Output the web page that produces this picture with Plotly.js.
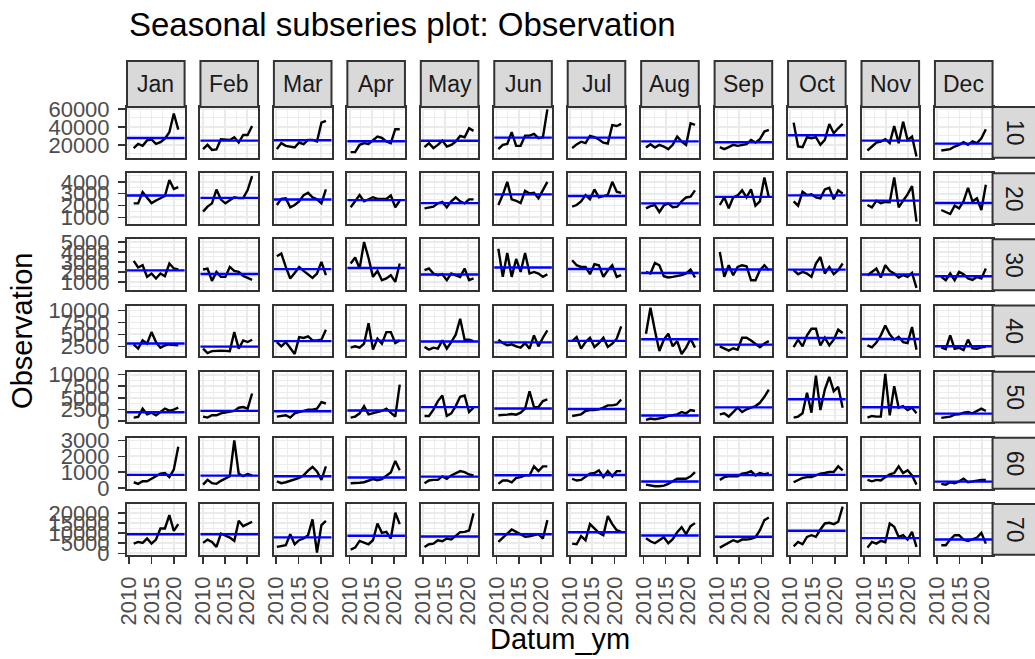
<!DOCTYPE html>
<html>
<head>
<meta charset="utf-8">
<script src="https://cdn.plot.ly/plotly-3.0.1.min.js"></script>
<style>
html,body{margin:0;padding:0;background:#fff;}
#chart{width:1035px;height:659px;}
</style>
</head>
<body>
<div id="chart"></div>
<script>
// ---------------- data ----------------
const months = ['Jan','Feb','Mar','Apr','May','Jun','Jul','Aug','Sep','Oct','Nov','Dec'];
const groups = ['10','20','30','40','50','60','70'];
const yearsJan = [2011,2012,2013,2014,2015,2016,2017,2018,2019,2020,2021];
const yearsMid = [2010,2011,2012,2013,2014,2015,2016,2017,2018,2019,2020,2021];
const yearsDec = [2010,2011,2012,2013,2014,2015,2016,2017,2018,2019,2020];

const obs10 = [
  [16300,21000,19000,25000,26000,21000,23000,27000,34000,55000,37000],
  [15200,20000,14400,14900,26300,26300,25500,28500,22600,31100,31000,41100],
  [15200,21900,18900,18100,17000,22600,20700,25500,25500,23700,44800,46700],
  [11900,11900,20000,21900,21000,24800,29200,27700,23700,21900,37400,37400],
  [17400,21900,16300,20000,24800,18100,20000,23700,30000,28500,38500,35600],
  [15200,20000,21100,34100,18900,18900,30300,30300,32200,27400,28500,59600],
  [16300,20500,23500,22000,30000,28500,26000,22500,21500,42000,41000,43300],
  [17000,20700,17000,20000,18100,15200,20000,29200,23700,20000,44100,42200],
  [17400,15200,17400,20000,18900,20000,20700,25500,22600,26300,34800,36700],
  [44800,18100,17400,28500,27400,28500,20000,25500,43300,33000,38500,43300],
  [13700,18100,22600,23700,26300,21900,41100,21900,45900,25500,29200,7000],
  [13700,14400,15200,18100,20000,23000,20000,24000,21900,27400,37400]
];
const obs20 = [
  [2180,2180,3130,2650,2200,2420,2600,2800,4150,3400,3550],
  [1480,1900,2180,3350,2500,2180,2450,2700,2620,2620,3300,4480],
  [2040,2560,2600,1840,2040,2350,2880,3070,2690,2520,2180,3360],
  [1850,2400,2880,2350,2500,2700,2550,2550,2550,2850,1850,2400],
  [1760,1840,1900,2180,2300,1840,2350,2690,2350,2180,2520,2520],
  [2040,2900,4000,2520,2400,2200,3240,3010,3070,2600,3300,4000],
  [1900,2040,2350,2880,2520,3360,2690,2770,2900,4000,3160,3070],
  [1760,1950,2040,1450,2000,2180,1850,1900,2350,2680,2740,3280],
  [2040,2690,1760,2690,2850,3280,2690,3360,1980,2350,4370,2690],
  [2350,1980,3160,2880,2940,2690,2600,3360,3500,2520,3280,3010],
  [2040,1840,2400,2200,2300,2270,4370,1840,2400,2940,3640,640],
  [1620,1470,1280,1980,1760,2350,3500,2350,2600,1620,3760]
];
const obs30 = [
  [3100,2440,2670,1500,1840,1340,1840,1570,2840,2340,2240],
  [2240,2340,1100,2000,1500,1500,2500,2100,2000,1600,1400,1200],
  [3570,3840,2500,1340,1900,2500,2100,1700,1400,1840,3000,1670],
  [2840,3440,2340,5000,3400,1500,2100,1170,1340,1670,1000,2840],
  [2170,2340,1840,1670,1770,1170,1840,1700,1500,2340,1170,1340],
  [4330,1500,3900,1500,3300,2000,3900,1840,2000,1840,1500,1770],
  [3170,2670,2500,2500,1770,2770,2670,1500,2170,2670,1500,1670],
  [2000,1840,2900,2670,1570,1440,1500,1570,1670,1840,2240,1440],
  [4000,1500,2670,1670,2500,2670,2570,1170,1170,2170,2670,2170],
  [2170,1770,2000,1840,1500,2840,3500,1840,2500,1770,2170,2840],
  [1670,2000,2340,1440,2670,2100,1840,1440,1670,1500,1900,400],
  [1500,1170,1840,1170,2000,1770,1340,1200,1500,1340,2340]
];
const obs40 = [
  [2920,2020,3750,3060,5480,3400,2230,2710,2900,2800,2710],
  [2020,1110,1500,1600,1600,1550,1500,5480,2020,3750,3400,3890],
  [3400,2500,3400,2230,900,4430,4260,4600,3750,3750,3900,5980],
  [2230,2500,2230,3060,7350,1810,4100,3060,5480,5480,3190,3750],
  [2360,1810,2230,2020,3750,2020,3400,4930,8270,3890,3890,3610],
  [3890,3190,2710,2920,2500,2230,3190,2020,4790,2500,4300,5830],
  [3610,4440,2020,3400,4300,2360,3190,4300,2360,3060,4100,6670],
  [5140,10560,5830,1520,3890,5140,2500,3610,900,2230,4100,2230],
  [2500,2100,1600,2100,1800,4300,4300,3700,2900,2300,3100,3600],
  [2360,3890,2500,4790,6180,6180,2710,4300,2710,3890,5980,5280],
  [2710,2300,3300,4800,6870,5000,3890,4500,3400,3200,6530,1810],
  [2300,1900,4800,2000,2200,1700,3900,2100,2000,2300,2400]
];
const obs50 = [
  [730,860,2660,1440,1800,1230,1930,2660,2240,2450,2870],
  [940,730,1230,1230,1640,1800,1930,2160,2870,3010,2660,5930],
  [940,1080,1230,730,1640,1930,2160,2450,2450,2660,4070,3780],
  [730,950,1660,3220,1440,1660,1930,2160,2660,1860,950,7860],
  [1080,1080,2450,4290,5500,1080,1660,3220,5220,5500,1930,2870],
  [1230,1230,1370,1510,1370,1800,2660,6430,3000,3000,4290,4640],
  [1080,1230,1440,2160,2370,2370,2520,2870,3360,3360,3570,4640],
  [220,520,370,520,730,1080,1230,1440,1930,1650,2360,2150],
  [1440,1660,950,1930,2870,1930,2520,2870,3220,3930,5220,6790],
  [730,950,1660,6080,1800,9790,2360,6790,9500,6430,7360,2870],
  [730,1080,950,950,10150,1230,7500,2870,3220,2360,2870,1660],
  [660,730,950,1370,1440,1800,1930,1660,2160,2660,2160]
];
const obs60 = [
  [370,270,430,430,590,740,910,950,690,1160,2600],
  [220,520,310,270,460,590,750,3000,910,750,880,800],
  [430,310,370,460,590,640,800,1100,1330,1050,520,1370],
  [310,310,340,370,460,570,500,570,780,990,1710,1120],
  [310,480,520,520,740,590,800,950,1070,1010,860,800],
  [270,480,480,370,640,690,800,800,1370,1070,1370,1370],
  [590,480,520,690,910,950,1120,690,1070,740,1070,1070],
  [220,160,120,120,160,270,430,590,590,590,740,1010],
  [520,690,740,740,740,910,950,1070,800,950,860,950],
  [370,480,640,690,690,800,910,950,1010,1010,1370,1120],
  [520,430,520,480,690,860,950,1370,950,1120,800,220],
  [270,220,370,310,430,590,370,430,480,520,520]
];
const obs70 = [
  [4830,5670,5170,7330,4830,6830,12330,12330,19000,11170,14500],
  [5170,6830,5670,3170,9830,9000,7830,6170,16170,13500,14500,15670],
  [3170,3500,4000,9500,4500,6500,7330,9000,16830,400,14000,16170],
  [1830,2830,6170,5170,4500,6500,14830,10170,10670,7330,20170,14500],
  [3170,4500,4830,6500,6000,7330,6830,8830,10500,10670,11330,19830],
  [5670,7830,9500,11830,10670,9500,8170,8500,9000,9500,7330,16500],
  [4830,4500,8500,6500,14500,12330,10170,9000,18500,14500,11500,10670],
  [7500,6000,5000,6500,8000,5000,7000,10500,13000,9500,13500,15000],
  [2830,4000,5170,6500,5670,6830,6830,7170,8000,11500,16500,17830],
  [3500,5670,4500,8170,9000,8170,11830,14830,15170,14500,15670,23170],
  [2830,5670,4830,6170,5500,14830,13170,8170,9000,6830,10670,3170],
  [4000,4000,6830,9000,9000,6830,6170,6830,7830,10170,4830]
];

const xTickYears = [2010, 2015, 2020];
const xTickText = ['2010', '2015', '2020'];
const yTicks10 = [20000, 40000, 60000];
const yTicks20 = [1000, 2000, 3000, 4000];
const yTicks30 = [1000, 2000, 3000, 4000, 5000];
const yTicks40 = [2500, 5000, 7500, 10000];
const yTicks50 = [0, 2500, 5000, 7500, 10000];
const yTicks60 = [0, 1000, 2000, 3000];
const yTicks70 = [0, 5000, 10000, 15000, 20000];

// ---------------- layout config ----------------
const obsRows = [obs10, obs20, obs30, obs40, obs50, obs60, obs70];
const yTickRows = [yTicks10, yTicks20, yTicks30, yTicks40, yTicks50, yTicks60, yTicks70];
const yRanges = [[5556,62222],[436,4733],[170,5270],[417,11040],[-323,10645],[-32,3160],[-750,24500]];
const xRange = ['2009-07-01', '2022-06-03'];

const W = 1035, H = 659;
const colLeft0 = 127, colStep = 73.45, colW = 57.6;
const rowTop0 = 107, rowStep = 66.17, rowH = 50.8;
const stripTop = 61;
const stripRightW = 44;
const FONT = 'Liberation Sans, Arial, Helvetica, sans-serif';

function ym(y, m) { return y + '-' + String(m + 1).padStart(2, '0') + '-01'; }
function mean(a) { return a.reduce((s, v) => s + v, 0) / a.length; }
function minorOf(t) {
  const step = t[1] - t[0];
  const out = [t[0] - step / 2];
  t.forEach(v => out.push(v + step / 2));
  return out;
}

const xTickVals = xTickYears.map(y => y + '-01-01');
const xMinorVals = [2007, 2012, 2017, 2022].map(y => y + '-07-02');

const traces = [];
const shapes = [];
const annotations = [];
const layout = {
  width: W, height: H,
  margin: {l: 0, r: 0, t: 0, b: 0},
  paper_bgcolor: '#ffffff',
  plot_bgcolor: '#ffffff',
  showlegend: false,
  font: {family: FONT, color: '#000000'},
  title: {
    text: 'Seasonal subseries plot: Observation',
    font: {family: FONT, size: 33, color: '#000000'},
    x: 129 / W, xanchor: 'left', xref: 'paper',
    y: 1 - 13 / H, yanchor: 'top', yref: 'container'
  }
};

for (let r = 0; r < groups.length; r++) {
  const top = rowTop0 + r * rowStep;
  const bot = top + rowH;
  for (let c = 0; c < months.length; c++) {
    const idx = r * months.length + c + 1;
    const s = idx === 1 ? '' : String(idx);
    const left = colLeft0 + c * colStep;
    const right = left + colW;
    const years = c === 0 ? yearsJan : (c === 11 ? yearsDec : yearsMid);
    const vals = obsRows[r][c];
    traces.push({
      type: 'scatter', mode: 'lines',
      x: years.map(y => ym(y, c)), y: vals,
      xaxis: 'x' + s, yaxis: 'y' + s,
      line: {color: '#000000', width: 2.4},
      hoverinfo: 'skip'
    });
    const m = mean(vals);
    shapes.push({
      type: 'line', xref: 'x' + s + ' domain', yref: 'y' + s,
      x0: 0, x1: 1, y0: m, y1: m,
      line: {color: '#0000FF', width: 2.4}, layer: 'above'
    });
    const isBottom = r === groups.length - 1;
    const isLeft = c === 0;
    layout['xaxis' + s] = {
      domain: [left / W, right / W], anchor: 'y' + s,
      type: 'date', range: xRange, fixedrange: true,
      tickmode: 'array', tickvals: xTickVals, ticktext: xTickText,
      showticklabels: isBottom, ticks: isBottom ? 'outside' : '',
      ticklen: 7, tickwidth: 1.6, tickcolor: '#333333', tickangle: -90,
      ticklabelstandoff: 4,
      tickfont: {family: FONT, size: 22, color: '#4D4D4D'},
      showgrid: true, gridcolor: '#EBEBEB', gridwidth: 1.8,
      minor: {tickmode: 'array', tickvals: xMinorVals, showgrid: true, gridcolor: '#EBEBEB', gridwidth: 0.9, ticks: ''},
      showline: true, mirror: true, linecolor: '#333333', linewidth: 2,
      zeroline: false
    };
    const yt = yTickRows[r];
    layout['yaxis' + s] = {
      domain: [1 - bot / H, 1 - top / H], anchor: 'x' + s,
      range: yRanges[r], fixedrange: true,
      tickmode: 'array', tickvals: yt, ticktext: yt.map(String),
      showticklabels: isLeft, ticks: isLeft ? 'outside' : '',
      ticklen: 7, tickwidth: 1.6, tickcolor: '#333333',
      ticklabelstandoff: 4,
      tickfont: {family: FONT, size: 22, color: '#4D4D4D'},
      showgrid: true, gridcolor: '#EBEBEB', gridwidth: 1.8,
      minor: {tickmode: 'array', tickvals: minorOf(yt), showgrid: true, gridcolor: '#EBEBEB', gridwidth: 0.9, ticks: ''},
      showline: true, mirror: true, linecolor: '#333333', linewidth: 2,
      zeroline: false
    };
  }
  // right strip
  const sx0 = colLeft0 + 11 * colStep + colW;
  shapes.push({
    type: 'rect', xref: 'paper', yref: 'paper',
    x0: sx0 / W, x1: (sx0 + stripRightW) / W, y0: 1 - bot / H, y1: 1 - top / H,
    fillcolor: '#D9D9D9', line: {color: '#333333', width: 2}, layer: 'above'
  });
  annotations.push({
    text: groups[r], xref: 'paper', yref: 'paper',
    x: (sx0 + 22) / W, y: 1 - (top + rowH / 2) / H,
    xanchor: 'center', yanchor: 'middle', showarrow: false, textangle: 90,
    font: {family: FONT, size: 23, color: '#1A1A1A'}
  });
}
// top strips
for (let c = 0; c < months.length; c++) {
  const left = colLeft0 + c * colStep;
  shapes.push({
    type: 'rect', xref: 'paper', yref: 'paper',
    x0: left / W, x1: (left + colW) / W, y0: 1 - rowTop0 / H, y1: 1 - stripTop / H,
    fillcolor: '#D9D9D9', line: {color: '#333333', width: 2}, layer: 'above'
  });
  annotations.push({
    text: months[c], xref: 'paper', yref: 'paper',
    x: (left + colW / 2) / W, y: 1 - ((stripTop + rowTop0) / 2) / H,
    xanchor: 'center', yanchor: 'middle', showarrow: false,
    font: {family: FONT, size: 23, color: '#1A1A1A'}
  });
}
// axis titles
const panelsMidY = rowTop0 + (6 * rowStep + rowH) / 2;
const panelsMidX = colLeft0 + (11 * colStep + colW) / 2;
annotations.push({
  text: 'Observation', xref: 'paper', yref: 'paper',
  x: 22 / W, y: 1 - panelsMidY / H, xanchor: 'center', yanchor: 'middle',
  textangle: -90, showarrow: false,
  font: {family: FONT, size: 29, color: '#000000'}
});
annotations.push({
  text: 'Datum_ym', xref: 'paper', yref: 'paper',
  x: panelsMidX / W, y: 1 - 639 / H, xanchor: 'center', yanchor: 'middle',
  showarrow: false,
  font: {family: FONT, size: 29, color: '#000000'}
});

layout.shapes = shapes;
layout.annotations = annotations;

Plotly.newPlot('chart', traces, layout, {displayModeBar: false, staticPlot: true});
</script>
</body>
</html>
